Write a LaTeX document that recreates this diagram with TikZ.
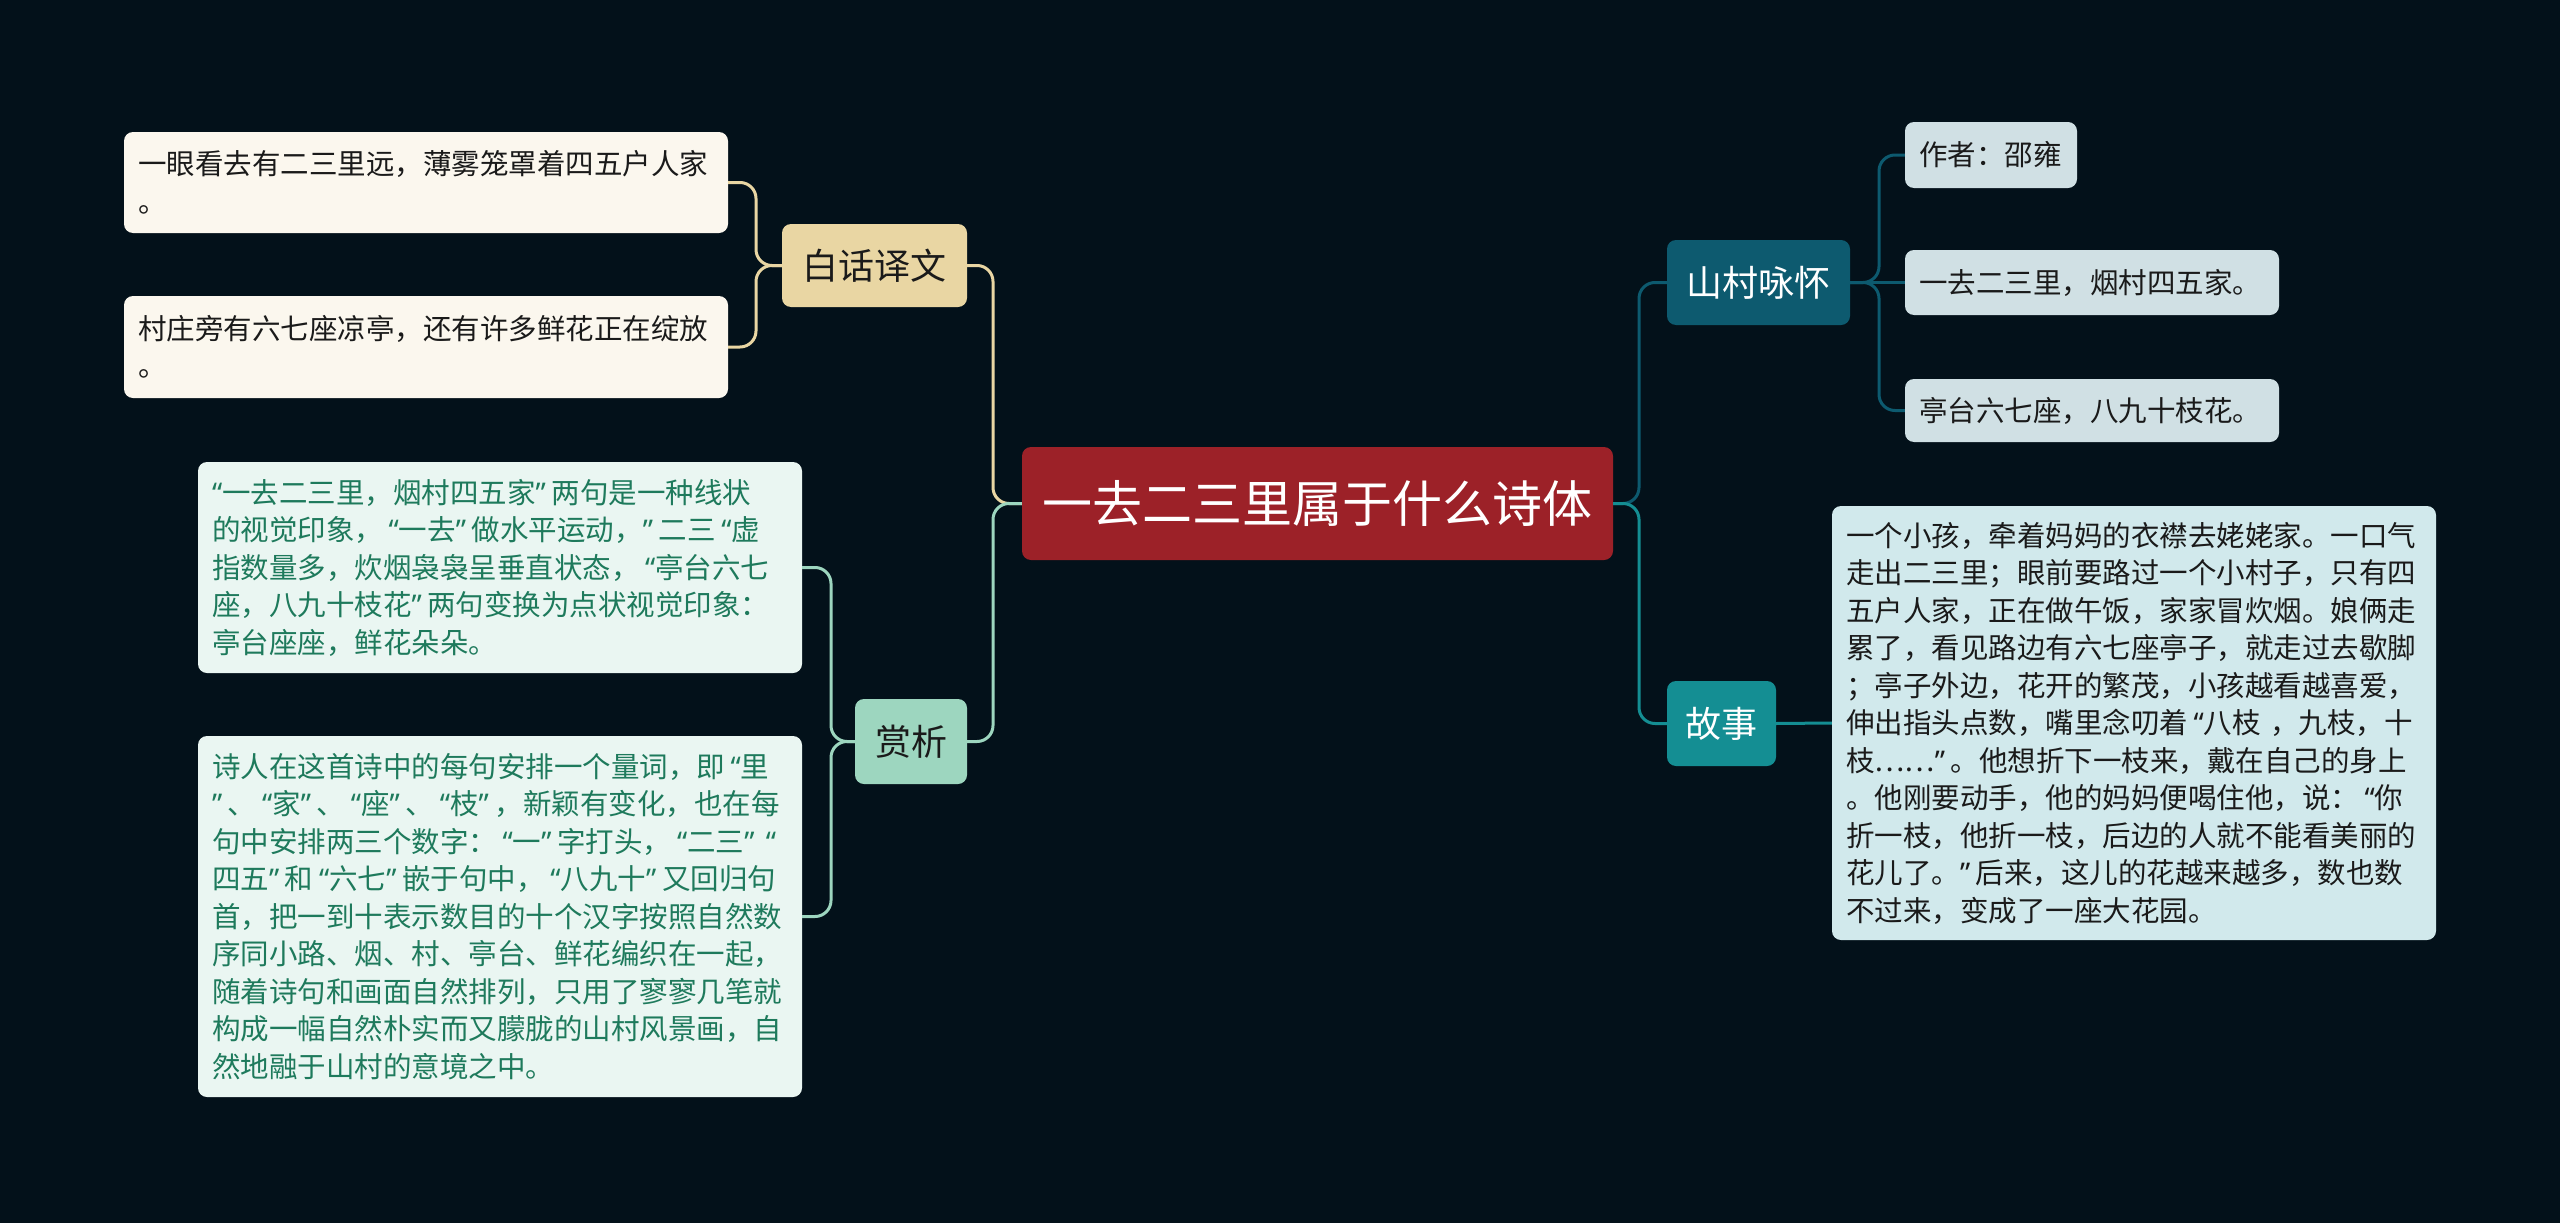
\documentclass[tikz,border=0pt]{standalone}
\usepackage{fontspec}
\setmainfont{Noto Sans CJK SC}
\newfontfamily\qfont{Noto Sans}
\newcommand\qo{\kern0.2em{\qfont “}}
\newcommand\qO{{\qfont “}}
\newcommand\qc{{\qfont ”}\kern0.2em}
\definecolor{bgc}{HTML}{03111A}
\definecolor{rootc}{HTML}{9C2128}
\definecolor{tanc}{HTML}{E9D6A3}
\definecolor{creamc}{HTML}{FBF7EE}
\definecolor{mintc}{HTML}{9DD6BF}
\definecolor{mintl}{HTML}{EAF6F2}
\definecolor{mintt}{HTML}{1E7A5C}
\definecolor{dtealc}{HTML}{0D5A6F}
\definecolor{tealc}{HTML}{148E93}
\definecolor{greyb}{HTML}{D0E0E4}
\definecolor{cyanl}{HTML}{D1E9EC}
\definecolor{darktx}{HTML}{1A1A1A}
\tikzset{
  box/.style={rounded corners=9pt, inner sep=0pt, align=center},
  leaf/.style={rounded corners=9pt, inner xsep=14pt, inner ysep=0pt, align=left,
    font=\fontsize{28.5}{37.5}\selectfont},
  sub/.style={box, font=\fontsize{36}{40}\selectfont},
  conn/.style={line width=3pt, rounded corners=16pt},
}
\begin{document}
\begin{tikzpicture}[x=1pt,y=-1pt]
\fill[bgc] (0,0) rectangle (2560,1223);
\useasboundingbox (0,0) rectangle (2560,1223);

% nodes
\node[box, fill=rootc, text=white, minimum width=591pt, minimum height=113pt,
  font=\fontsize{50}{60}\selectfont] (root) at (1317.5,503.5) {一去二三里属于什么诗体};

\node[sub, fill=tanc, text=darktx, minimum width=185pt, minimum height=83pt] (bh) at (874.5,265.5) {白话译文};
\node[sub, fill=mintc, text=darktx, minimum width=112pt, minimum height=85pt] (sx) at (911,741.5) {赏析};
\node[sub, fill=dtealc, text=white, minimum width=183pt, minimum height=85pt] (sc) at (1758.5,282.5) {山村咏怀};
\node[sub, fill=tealc, text=white, minimum width=109pt, minimum height=85pt] (gs) at (1721.5,723.5) {故事};

\node[leaf, fill=creamc, text=darktx, text width=576pt, minimum height=101pt] (l1) at (426,182.5)
  {一眼看去有二三里远，薄雾笼罩着四五户人家\\。};
\node[leaf, fill=creamc, text=darktx, text width=576pt, minimum height=102pt] (l2) at (426,347)
  {村庄旁有六七座凉亭，还有许多鲜花正在绽放\\。};

\node[leaf, fill=mintl, text=mintt, text width=576pt, minimum height=211pt] (s1) at (500,567.5)
  {\qO 一去二三里，烟村四五家\qc 两句是一种线状\\
   的视觉印象，\qo 一去\qc 做水平运动，\qc 二三\qo 虚\\
   指数量多，炊烟袅袅呈垂直状态，\qo 亭台六七\\
   座，八九十枝花\qc 两句变换为点状视觉印象：\\
   亭台座座，鲜花朵朵。};
\node[leaf, fill=mintl, text=mintt, text width=576pt, minimum height=361pt] (s2) at (500,916.5)
  {诗人在这首诗中的每句安排一个量词，即\qo 里\\
   \qc 、\qo 家\qc 、\qo 座\qc 、\qo 枝\qc ，新颖有变化，也在每\\
   句中安排两三个数字：\qo 一\qc 字打头，\qo 二三\qc\qo\\
   四五\qc 和\qo 六七\qc 嵌于句中，\qo 八九十\qc 又回归句\\
   首，把一到十表示数目的十个汉字按照自然数\\
   序同小路、烟、村、亭台、鲜花编织在一起，\\
   随着诗句和画面自然排列，只用了寥寥几笔就\\
   构成一幅自然朴实而又朦胧的山村风景画，自\\
   然地融于山村的意境之中。};

\node[leaf, fill=greyb, text=darktx, text width=144pt, minimum height=66pt] (r1) at (1991,155) {作者：邵雍};
\node[leaf, fill=greyb, text=darktx, text width=346pt, minimum height=65pt] (r2) at (2092,282.5) {一去二三里，烟村四五家。};
\node[leaf, fill=greyb, text=darktx, text width=346pt, minimum height=63pt] (r3) at (2092,410.5) {亭台六七座，八九十枝花。};

\node[leaf, fill=cyanl, text=darktx, text width=576pt, minimum height=434pt] (st) at (2134,723)
  {一个小孩，牵着妈妈的衣襟去姥姥家。一口气\\
   走出二三里；眼前要路过一个小村子，只有四\\
   五户人家，正在做午饭，家家冒炊烟。娘俩走\\
   累了，看见路边有六七座亭子，就走过去歇脚\\
   ；亭子外边，花开的繁茂，小孩越看越喜爱，\\
   伸出指头点数，嘴里念叨着\qo 八枝~，九枝，十\\
   枝……\qc 。他想折下一枝来，戴在自己的身上\\
   。他刚要动手，他的妈妈便喝住他，说：\qo 你\\
   折一枝，他折一枝，后边的人就不能看美丽的\\
   花儿了。\qc 后来，这儿的花越来越多，数也数\\
   不过来，变成了一座大花园。};

% junctions
\coordinate (jL) at (993,503.5);
\coordinate (jB) at (756,265.5);
\coordinate (jS) at (831,741.5);
\coordinate (jR) at (1639,503.5);
\coordinate (jC) at (1879,282.5);

% connectors
\draw[conn, tanc] (root.west) -- (jL) -- (jL |- bh.east) -- (bh.east);
\draw[conn, mintc] (root.west) -- (jL) -- (jL |- sx.east) -- (sx.east);
\draw[conn, tanc] (bh.west) -- (jB) -- (jB |- l1.east) -- (l1.east);
\draw[conn, tanc] (bh.west) -- (jB) -- (jB |- l2.east) -- (l2.east);
\draw[conn, mintc] (sx.west) -- (jS) -- (jS |- s1.east) -- (s1.east);
\draw[conn, mintc] (sx.west) -- (jS) -- (jS |- s2.east) -- (s2.east);
\draw[conn, dtealc] (root.east) -- (jR) -- (jR |- sc.west) -- (sc.west);
\draw[conn, tealc] (root.east) -- (jR) -- (jR |- gs.west) -- (gs.west);
\draw[conn, dtealc] (sc.east) -- (jC) -- (jC |- r1.west) -- (r1.west);
\draw[conn, dtealc] (sc.east) -- (r2.west);
\draw[conn, dtealc] (sc.east) -- (jC) -- (jC |- r3.west) -- (r3.west);
\draw[conn, tealc] (gs.east) -- (st.west);
\end{tikzpicture}
\end{document}
